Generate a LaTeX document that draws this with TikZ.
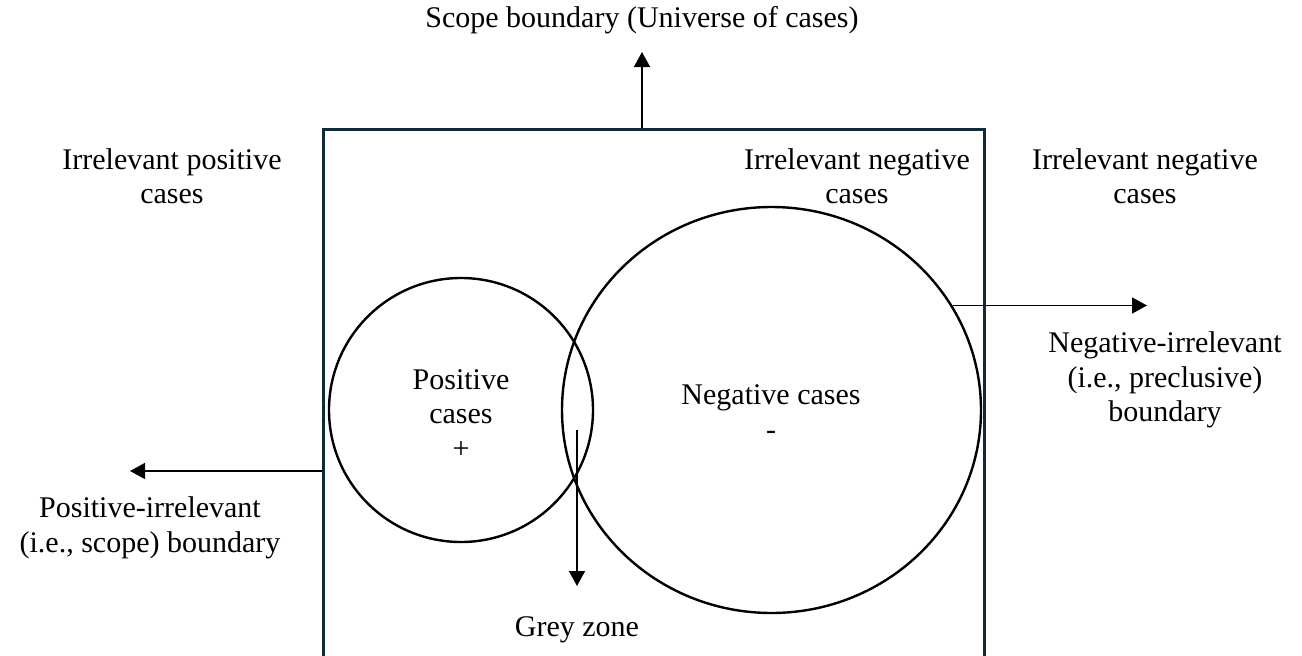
\documentclass[tikz,border=0pt]{standalone}
\usepackage{fontspec}
\setmainfont{Liberation Serif}
\usetikzlibrary{arrows.meta,shapes.geometric}
\definecolor{framecol}{HTML}{0F2B3A}
\begin{document}
\begin{tikzpicture}[x=1pt,y=-1pt,
  lbl/.style={align=center,font=\fontsize{30}{34.5}\selectfont,inner sep=0pt},
  ring/.style={draw=black,line width=2.4pt,inner sep=0pt},
  pointer/.style={draw=black,line width=1.5pt,-{Triangle[length=15pt,width=16pt]}}]
\useasboundingbox (0,0) rectangle (1302,656);
% universe of cases (open at the bottom)
\node[draw=framecol,line width=2.8pt,minimum width=661pt,minimum height=560pt,
      inner sep=0pt,anchor=north west] (scope) at (322,128) {};
% positive and negative cases
\node[ring,circle,minimum size=264pt] (pos) at (461,410) {};
\node[ring,ellipse,minimum width=419pt,minimum height=406pt] (neg) at (771.5,410) {};
% labels
\node[lbl] (title) at (642,20) {Scope boundary (Universe of cases)};
\node[lbl] (irrpos) at (172,176) {Irrelevant positive\\cases};
\node[lbl] (irrnegin) at (857,176) {Irrelevant negative\\cases};
\node[lbl] (irrnegout) at (1145,176) {Irrelevant negative\\cases};
\node[lbl] (negbound) at (1165,380) {Negative-irrelevant\\(i.e., preclusive)\\boundary};
\node[lbl] (posbound) at (150,528) {Positive-irrelevant\\(i.e., scope) boundary};
\node[lbl] (poslbl) at (461,414) {Positive\\cases\\+};
\node[lbl] (neglbl) at (771,412) {Negative cases\\-};
\node[lbl] (grey) at (577,630) {Grey zone};
% pointers
\coordinate (topend) at (642,52);
\coordinate (leftstart) at (322,471);
\coordinate (leftend) at (130,471);
\coordinate (rightend) at (1147,0);
\coordinate (greystart) at (577,430);
\coordinate (greyend) at (577,586);
\draw[pointer] (scope.north -| topend) -- (topend);
\draw[pointer] (leftstart) -- (leftend);
\draw[pointer] (neg.30) -- (neg.30 -| rightend);
\draw[pointer] (greystart) -- (greyend);
\end{tikzpicture}
\end{document}
